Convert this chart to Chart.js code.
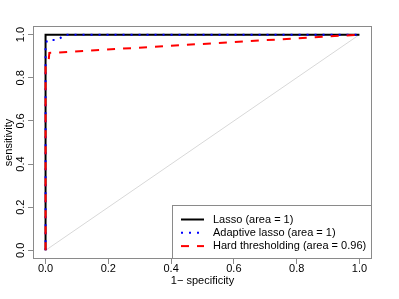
<!DOCTYPE html>
<html><head><meta charset="utf-8">
<script src="https://cdn.jsdelivr.net/npm/chart.js@4/dist/chart.umd.min.js"></script>
<style>html,body{margin:0;padding:0;background:#fff}#w{width:399px;height:299px}</style>
</head><body><div id="w"><canvas id="c" width="399" height="299"></canvas></div>
<script>
const tickValues = [0, 0.2, 0.4, 0.6, 0.8, 1.0];
const tickLabels = ['0.0', '0.2', '0.4', '0.6', '0.8', '1.0'];
const lassoFpr = [0, 0, 1];
const lassoTpr = [0, 1, 1];
const adaptiveFpr = [0, 0, 0.005, 0.04, 0.06, 1];
const adaptiveTpr = [0, 0.95, 0.975, 0.975, 1, 1];
const hardFpr = [0, 0, 0.01, 0.012, 1];
const hardTpr = [0, 0.85, 0.88, 0.915, 1];
const diagFpr = [0, 1];
const diagTpr = [0, 1];
const seriesLabels = ['Lasso (area = 1)', 'Adaptive lasso (area = 1)', 'Hard thresholding (area = 0.96)'];

const pts = (xs, ys) => xs.map((x, i) => ({x, y: ys[i]}));
const FONT = 'Liberation Sans, Arial, Helvetica, sans-serif';
const BOX = '#8a8a8a';

const boxPlugin = {
  id: 'rbox',
  afterDatasetsDraw(chart) {
    const {ctx, chartArea: a} = chart;
    ctx.save();
    ctx.strokeStyle = BOX; ctx.lineWidth = 1;
    ctx.strokeRect(Math.round(a.left) + 0.5, Math.round(a.top) + 0.5, Math.round(a.right - a.left) - 1, Math.round(a.bottom - a.top) - 1);
    // legend
    const w = 200, h = 54;
    const lx = Math.round(a.right) - w, ly = Math.round(a.bottom) - h;
    ctx.fillStyle = '#fff';
    ctx.fillRect(lx, ly, w, h);
    ctx.strokeRect(lx + 0.5, ly + 0.5, w - 1, h - 1);
    ctx.font = '11px ' + FONT;
    ctx.textBaseline = 'middle';
    ctx.textAlign = 'left';
    const ds = chart.data.datasets;
    for (let i = 0; i < 3; i++) {
      const d = ds[i];
      const yy = ly + 14.5 + i * 13.3;
      ctx.beginPath();
      ctx.strokeStyle = d.borderColor;
      ctx.lineWidth = d.borderWidth;
      ctx.setLineDash(d.borderDash || []);
      ctx.moveTo(lx + 9, yy); ctx.lineTo(lx + 32, yy);
      ctx.stroke();
      ctx.setLineDash([]);
      ctx.fillStyle = '#000';
      ctx.fillText(d.label, lx + 41, yy);
    }
    ctx.restore();
  }
};

const setTicks = (s) => { s.ticks = tickValues.map(v => ({value: v})); };

new Chart(document.getElementById('c'), {
  type: 'scatter',
  data: {
    datasets: [
      {label: seriesLabels[0], data: pts(lassoFpr, lassoTpr), borderColor: '#000000', borderWidth: 2, order: 3},
      {label: seriesLabels[1], data: pts(adaptiveFpr, adaptiveTpr), borderColor: '#0000ff', borderWidth: 2, borderDash: [2, 6], order: 2},
      {label: seriesLabels[2], data: pts(hardFpr, hardTpr), borderColor: '#ff0000', borderWidth: 2, borderDash: [8, 8], order: 1},
      {label: 'diag', data: pts(diagFpr, diagTpr), borderColor: '#d8d8d8', borderWidth: 1, order: 4}
    ]
  },
  options: {
    responsive: false, animation: false,
    showLine: true,
    elements: {point: {radius: 0, hoverRadius: 0}, line: {tension: 0, fill: false}},
    layout: {padding: {top: 26, right: 27, left: 0, bottom: 0}},
    plugins: {legend: {display: false}, tooltip: {enabled: false}},
    scales: {
      x: {
        type: 'linear', min: -0.04, max: 1.04,
        afterBuildTicks: setTicks,
        afterFit: (s) => { s.height = 40; },
        grid: {display: true, drawOnChartArea: false, drawTicks: true, tickLength: 5, color: BOX},
        border: {display: false},
        ticks: {color: '#000', font: {family: FONT, size: 11}, padding: -2, maxRotation: 0,
          callback: (v, i) => tickLabels[i]},
        title: {display: true, text: '1\u2212 specificity', color: '#000', font: {family: FONT, size: 11}, padding: {top: 0, bottom: 11}}
      },
      y: {
        type: 'linear', min: -0.04, max: 1.04,
        afterBuildTicks: setTicks,
        afterFit: (s) => { s.width = 33; },
        grid: {display: true, drawOnChartArea: false, drawTicks: true, tickLength: 5, color: BOX},
        border: {display: false},
        ticks: {color: '#000', font: {family: FONT, size: 11}, padding: -1, minRotation: 90, maxRotation: 90, crossAlign: 'center',
          callback: (v, i) => tickLabels[i]},
        title: {display: true, text: 'sensitivity', color: '#000', font: {family: FONT, size: 11}, padding: {top: 2, bottom: 0}}
      }
    }
  },
  plugins: [boxPlugin]
});
</script></body></html>
